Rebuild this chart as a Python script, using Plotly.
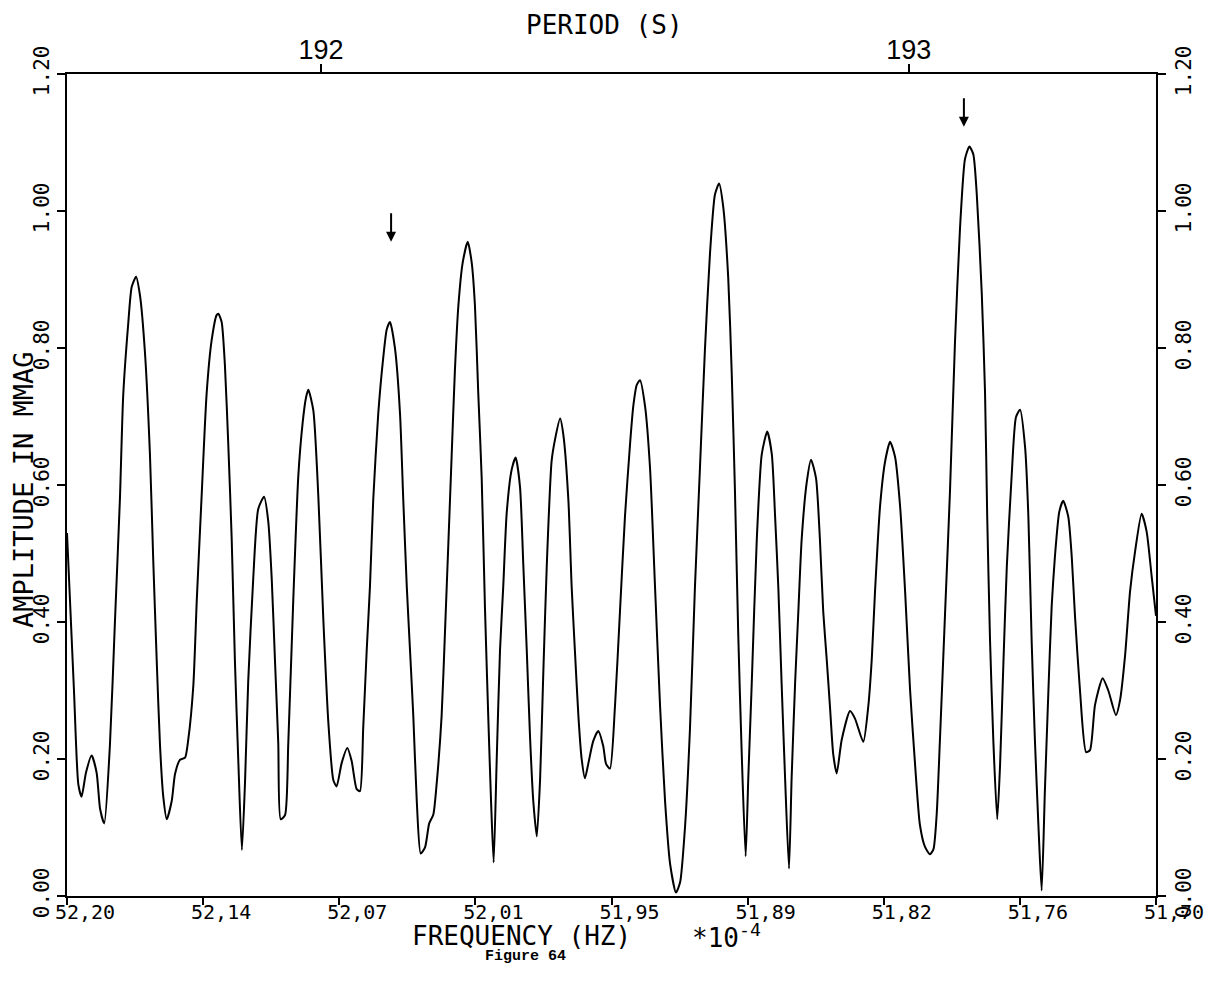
import plotly.graph_objects as go

# Frequency (units of 1e-4 Hz) and amplitude (mmag)
freq = [
    52.2000, 52.1968, 52.1948, 52.1933, 52.1913, 52.1887, 52.1864, 52.1848, 52.1829, 52.1803,
    52.1780, 52.1757, 52.1742, 52.1719, 52.1703, 52.1683, 52.1665, 52.1642, 52.1619, 52.1604,
    52.1588, 52.1573, 52.1558, 52.1542, 52.1519, 52.1504, 52.1481, 52.1458, 52.1443, 52.1420,
    52.1404, 52.1382, 52.1359, 52.1336, 52.1313, 52.1305, 52.1290, 52.1275, 52.1259, 52.1244,
    52.1229, 52.1213, 52.1197, 52.1183, 52.1168, 52.1145, 52.1122, 52.1095, 52.1076, 52.1060,
    52.1045, 52.1030, 52.1019, 52.0999, 52.0984, 52.0961, 52.0938, 52.0918, 52.0903, 52.0892,
    52.0869, 52.0846, 52.0823, 52.0800, 52.0777, 52.0762, 52.0739, 52.0713, 52.0693, 52.0670,
    52.0655, 52.0640, 52.0624, 52.0609, 52.0594, 52.0571, 52.0548, 52.0532, 52.0517, 52.0494,
    52.0471, 52.0456, 52.0440, 52.0425, 52.0410, 52.0394, 52.0376, 52.0356, 52.0337, 52.0318,
    52.0303, 52.0280, 52.0264, 52.0249, 52.0234, 52.0219, 52.0203, 52.0183, 52.0160, 52.0142,
    52.0127, 52.0112, 52.0096, 52.0081, 52.0066, 52.0053, 52.0041, 52.0027, 52.0012, 51.9997,
    51.9981, 51.9958, 51.9940, 51.9920, 51.9905, 51.9889, 51.9874, 51.9859, 51.9843, 51.9828,
    51.9813, 51.9797, 51.9775, 51.9759, 51.9736, 51.9721, 51.9698, 51.9683, 51.9668, 51.9652,
    51.9637, 51.9622, 51.9606, 51.9584, 51.9561, 51.9538, 51.9525, 51.9507, 51.9484, 51.9461,
    51.9438, 51.9415, 51.9400, 51.9384, 51.9369, 51.9346, 51.9323, 51.9300, 51.9277, 51.9254,
    51.9231, 51.9204, 51.9185, 51.9162, 51.9140, 51.9117, 51.9094, 51.9071, 51.9048, 51.9025,
    51.9006, 51.8987, 51.8964, 51.8948, 51.8933, 51.8918, 51.8902, 51.8884, 51.8872, 51.8856,
    51.8833, 51.8810, 51.8785, 51.8764, 51.8749, 51.8734, 51.8719, 51.8703, 51.8685, 51.8673,
    51.8657, 51.8642, 51.8627, 51.8604, 51.8584, 51.8561, 51.8543, 51.8528, 51.8512, 51.8497,
    51.8482, 51.8466, 51.8443, 51.8405, 51.8382, 51.8344, 51.8321, 51.8305, 51.8290, 51.8267,
    51.8244, 51.8221, 51.8198, 51.8175, 51.8152, 51.8129, 51.8106, 51.8084, 51.8061, 51.8038,
    51.8022, 51.8007, 51.7992, 51.7969, 51.7946, 51.7923, 51.7900, 51.7877, 51.7857, 51.7839,
    51.7823, 51.7800, 51.7785, 51.7775, 51.7762, 51.7747, 51.7729, 51.7716, 51.7701, 51.7685,
    51.7663, 51.7643, 51.7624, 51.7601, 51.7586, 51.7571, 51.7556, 51.7540, 51.7525, 51.7510,
    51.7494, 51.7479, 51.7464, 51.7444, 51.7426, 51.7403, 51.7387, 51.7372, 51.7349, 51.7321,
    51.7303, 51.7280, 51.7245, 51.7219, 51.7184, 51.7165, 51.7142, 51.7119, 51.7096, 51.7066,
    51.7043, 51.7020, 51.7000,
]
amp = [
    0.530, 0.300, 0.163, 0.145, 0.180, 0.205, 0.180, 0.127, 0.106, 0.220,
    0.400, 0.580, 0.730, 0.835, 0.889, 0.904, 0.877, 0.793, 0.643, 0.490,
    0.343, 0.220, 0.145, 0.112, 0.139, 0.178, 0.199, 0.202, 0.229, 0.307,
    0.433, 0.583, 0.733, 0.811, 0.848, 0.850, 0.838, 0.775, 0.655, 0.523,
    0.343, 0.193, 0.067, 0.163, 0.313, 0.463, 0.565, 0.583, 0.547, 0.463,
    0.343, 0.223, 0.112, 0.118, 0.223, 0.433, 0.613, 0.691, 0.727, 0.739,
    0.709, 0.583, 0.403, 0.253, 0.169, 0.160, 0.194, 0.216, 0.197, 0.156,
    0.153, 0.245, 0.358, 0.452, 0.578, 0.704, 0.786, 0.827, 0.838, 0.799,
    0.704, 0.578, 0.452, 0.358, 0.263, 0.138, 0.062, 0.071, 0.106, 0.119,
    0.163, 0.263, 0.390, 0.515, 0.642, 0.767, 0.862, 0.925, 0.955, 0.925,
    0.862, 0.736, 0.610, 0.421, 0.263, 0.138, 0.049, 0.200, 0.358, 0.452,
    0.560, 0.623, 0.640, 0.597, 0.484, 0.358, 0.232, 0.138, 0.087, 0.169,
    0.327, 0.484, 0.635, 0.667, 0.697, 0.673, 0.578, 0.452, 0.358, 0.263,
    0.200, 0.172, 0.194, 0.226, 0.241, 0.219, 0.193, 0.186, 0.277, 0.416,
    0.555, 0.659, 0.715, 0.746, 0.753, 0.715, 0.624, 0.450, 0.277, 0.138,
    0.047, 0.005, 0.020, 0.103, 0.242, 0.450, 0.624, 0.798, 0.937, 1.024,
    1.040, 1.006, 0.902, 0.763, 0.589, 0.381, 0.207, 0.058, 0.172, 0.311,
    0.520, 0.645, 0.678, 0.645, 0.555, 0.450, 0.311, 0.172, 0.040, 0.172,
    0.311, 0.416, 0.520, 0.603, 0.637, 0.610, 0.520, 0.416, 0.346, 0.277,
    0.207, 0.179, 0.228, 0.270, 0.259, 0.225, 0.277, 0.346, 0.445, 0.569,
    0.634, 0.663, 0.641, 0.569, 0.445, 0.300, 0.191, 0.104, 0.072, 0.061,
    0.068, 0.119, 0.228, 0.409, 0.590, 0.808, 0.974, 1.076, 1.094, 1.083,
    1.025, 0.880, 0.735, 0.554, 0.373, 0.228, 0.112, 0.191, 0.336, 0.481,
    0.612, 0.699, 0.710, 0.655, 0.554, 0.373, 0.228, 0.104, 0.008, 0.155,
    0.300, 0.423, 0.496, 0.561, 0.577, 0.554, 0.496, 0.409, 0.300, 0.210,
    0.213, 0.279, 0.318, 0.300, 0.264, 0.286, 0.351, 0.445, 0.503, 0.558,
    0.532, 0.467, 0.409,
]

x_tick_vals = [52.2000, 52.1375, 52.0750, 52.0125, 51.9500, 51.8875, 51.8250, 51.7625, 51.7000]
x_tick_text = ["52,20", "52,14", "52,07", "52,01", "51,95", "51,89", "51,82", "51,76", "51,70"]
period_ticks_s = [192, 193]
y_tick_vals = [0.0, 0.2, 0.4, 0.6, 0.8, 1.0, 1.2]
y_tick_text = ["0.00", "0.20", "0.40", "0.60", "0.80", "1.00", "1.20"]
arrow_freq = [52.0512, 51.7882]
arrow_tip_amp = [0.955, 1.123]

FONT = "DejaVu Sans Mono"
X_RANGE = [52.20, 51.70]
Y_RANGE = [0.0, 1.2]

fig = go.Figure()
fig.add_trace(go.Scatter(
    x=freq, y=amp, mode="lines",
    line=dict(color="black", width=2, shape="spline", smoothing=0.6),
    hoverinfo="skip", showlegend=False,
))
# invisible copy to activate the top / right axes
fig.add_trace(go.Scatter(
    x=freq, y=amp, mode="lines", xaxis="x2", yaxis="y2",
    line=dict(color="rgba(0,0,0,0)", width=1),
    hoverinfo="skip", showlegend=False,
))

axis_common = dict(
    showline=True, linewidth=2, linecolor="black",
    ticks="outside", tickwidth=2, tickcolor="black",
    showgrid=False, zeroline=False, automargin=False,
)

# page body has an 8px margin: plot area lands at x 67..1156, y 74..896
fig.update_layout(
    width=1209, height=971, autosize=False,
    margin=dict(l=59, r=61, t=66, b=83),
    plot_bgcolor="white", paper_bgcolor="white",
    xaxis=dict(
        range=X_RANGE, tickmode="array", tickvals=x_tick_vals, ticktext=x_tick_text,
        ticklen=7, tickfont=dict(family=FONT, size=20, color="black"),
        ticklabelshift=-18, ticklabelstandoff=-10,
        **axis_common,
    ),
    xaxis2=dict(
        range=X_RANGE, overlaying="x", side="top", tickmode="array",
        tickvals=[1e4 / p for p in period_ticks_s],
        ticktext=[str(p) for p in period_ticks_s],
        ticklen=8, tickfont=dict(family="Liberation Sans", size=27, color="black"),
        ticklabelstandoff=-6,
        **axis_common,
    ),
    yaxis=dict(
        range=Y_RANGE, tickmode="array", tickvals=y_tick_vals, ticktext=y_tick_text,
        tickangle=-90, ticklen=8, tickfont=dict(family=FONT, size=21, color="black"),
        **axis_common,
    ),
    yaxis2=dict(
        range=Y_RANGE, overlaying="y", side="right", tickmode="array",
        tickvals=y_tick_vals, ticktext=y_tick_text,
        tickangle=-90, ticklen=8, tickfont=dict(family=FONT, size=21, color="black"),
        **axis_common,
    ),
)

annotations = [
    dict(text="PERIOD (S)", x=0.494, y=1.0595, xref="paper", yref="paper",
         showarrow=False, font=dict(family=FONT, size=26, color="black"),
         xanchor="center", yanchor="middle"),
    dict(text="AMPLITUDE IN MMAG", x=-0.0395, y=0.494, xref="paper", yref="paper",
         showarrow=False, textangle=-90, font=dict(family=FONT, size=27, color="black"),
         xanchor="center", yanchor="middle"),
    dict(text="FREQUENCY (HZ)", x=0.315, y=-0.049, xref="paper", yref="paper",
         showarrow=False, font=dict(family=FONT, size=26, color="black"),
         xanchor="left", yanchor="middle"),
    dict(text="*10<sup>-4</sup>", x=0.5725, y=-0.049, xref="paper", yref="paper",
         showarrow=False, font=dict(family=FONT, size=26, color="black"),
         xanchor="left", yanchor="middle"),
    dict(text="<b>Figure 64</b>", x=0.4206, y=-0.0738, xref="paper", yref="paper",
         showarrow=False, font=dict(family="Liberation Mono", size=15, color="black"),
         xanchor="center", yanchor="middle"),
]
for fx, fy in zip(arrow_freq, arrow_tip_amp):
    annotations.append(dict(
        x=fx, y=fy, xref="x", yref="y", text="", showarrow=True,
        ax=0, ay=-30, arrowhead=2, arrowsize=1, arrowwidth=2, arrowcolor="black",
    ))
fig.update_layout(annotations=annotations)

fig.write_html("out.html")
